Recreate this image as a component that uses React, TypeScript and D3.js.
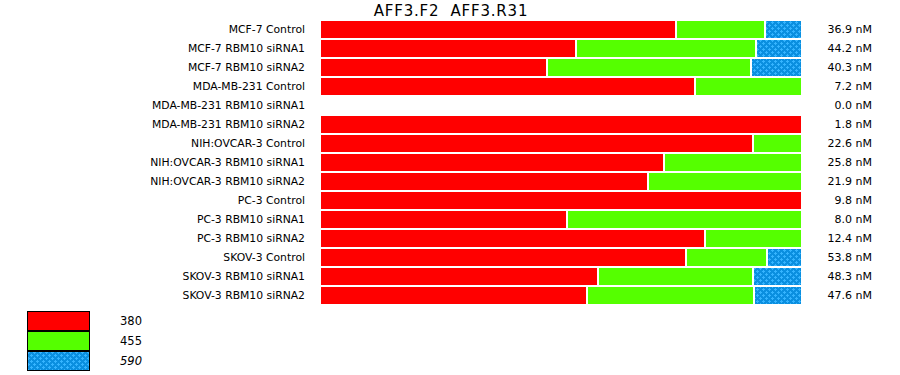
import React from "react";
import * as d3 from "d3";

// Samples, top to bottom
const samples = [
  "MCF-7 Control",
  "MCF-7 RBM10 siRNA1",
  "MCF-7 RBM10 siRNA2",
  "MDA-MB-231 Control",
  "MDA-MB-231 RBM10 siRNA1",
  "MDA-MB-231 RBM10 siRNA2",
  "NIH:OVCAR-3 Control",
  "NIH:OVCAR-3 RBM10 siRNA1",
  "NIH:OVCAR-3 RBM10 siRNA2",
  "PC-3 Control",
  "PC-3 RBM10 siRNA1",
  "PC-3 RBM10 siRNA2",
  "SKOV-3 Control",
  "SKOV-3 RBM10 siRNA1",
  "SKOV-3 RBM10 siRNA2",
];

// Share (%) of each product size per sample
const share380 = [73.9, 53.1, 47.1, 77.8, 0, 100, 89.8, 71.4, 68.0, 100, 51.2, 79.9, 75.9, 57.7, 55.4];
const share455 = [18.5, 37.3, 42.3, 22.2, 0, 0, 10.2, 28.6, 32.0, 0, 48.8, 20.1, 16.8, 32.2, 34.6];
const share590 = [7.6, 9.6, 10.6, 0, 0, 0, 0, 0, 0, 0, 0, 0, 7.3, 10.1, 10.0];

// Total concentration per sample
const concentration = ["36.9", "44.2", "40.3", "7.2", "0.0", "1.8", "22.6", "25.8", "21.9", "9.8", "8.0", "12.4", "53.8", "48.3", "47.6"];

const productSizes = ["380", "455", "590"];
const title = "AFF3.F2  AFF3.R31";

const FONT = "'DejaVu Sans', Verdana, sans-serif";

export default function App() {
  const width = 900;
  const height = 375;

  const y = d3
    .scaleBand<string>()
    .domain(samples)
    .range([20, 20 + samples.length * 19])
    .paddingInner(2 / 19)
    .paddingOuter(1 / 19);

  const x = d3.scaleLinear().domain([0, 100]).range([321, 803]);

  const series = [share380, share455, share590];
  const fills = ["#ff0000", "#55ff00", "url(#dots590)"];

  const segments: { key: string; x0: number; x1: number; y: number; fill: string }[] = [];
  samples.forEach((s, i) => {
    let acc = 0;
    series.forEach((arr, k) => {
      const v = arr[i];
      if (v > 0) {
        segments.push({ key: `${i}-${k}`, x0: acc, x1: acc + v, y: y(s)!, fill: fills[k] });
      }
      acc += v;
    });
  });

  const legendColors = ["#ff0000", "#55ff00", "url(#dots590)"];

  return (
    <svg width={width} height={height} style={{ display: "block", position: "absolute", left: 0, top: 0 }}>
      <defs>
        <pattern id="dots590" patternUnits="userSpaceOnUse" width={6} height={6} x={0} y={0}>
          <rect width={6} height={6} fill="#0a8fe0" />
          <path d="M1 0h1v1h1v1h-1v1h-1v-1h-1v-1h1z" fill="#35b4ff" />
          <path d="M4 3h1v1h1v1h-1v1h-1v-1h-1v-1h1z" fill="#35b4ff" />
        </pattern>
      </defs>
      <rect width={width} height={height} fill="#ffffff" />

      <text
        x={451}
        y={15.5}
        textAnchor="middle"
        fontFamily={FONT}
        fontSize={15}
        letterSpacing={0.8}
        fill="#000"
      >
        {title.replace(/ /g, "\u00a0")}
      </text>

      {segments.map((d) => (
        <rect
          key={d.key}
          x={x(d.x0)}
          y={d.y}
          width={Math.max(0, x(d.x1) - x(d.x0) - 2)}
          height={y.bandwidth()}
          fill={d.fill}
          shapeRendering="crispEdges"
        />
      ))}

      {samples.map((s) => (
        <text
          key={s}
          x={305}
          y={y(s)! + y.bandwidth() / 2}
          dy="0.35em"
          textAnchor="end"
          fontFamily={FONT}
          fontSize={10.8}
          fill="#000"
        >
          {s}
        </text>
      ))}

      {samples.map((s, i) => (
        <text
          key={`c-${s}`}
          x={872}
          y={y(s)! + y.bandwidth() / 2}
          dy="0.35em"
          textAnchor="end"
          fontFamily={FONT}
          fontSize={11}
          fill="#000"
        >
          {concentration[i]} nM
        </text>
      ))}

      {productSizes.map((p, i) => (
        <g key={p}>
          <rect
            x={27.5}
            y={311.5 + i * 20}
            width={62}
            height={19}
            fill={legendColors[i]}
            stroke="#000"
            strokeWidth={1}
            shapeRendering="crispEdges"
          />
          <text
            x={120}
            y={321 + i * 20}
            dy="0.35em"
            fontFamily={FONT}
            fontSize={11.5}
            fontStyle={i === 2 ? "italic" : "normal"}
            fill="#000"
          >
            {p}
          </text>
        </g>
      ))}
    </svg>
  );
}
